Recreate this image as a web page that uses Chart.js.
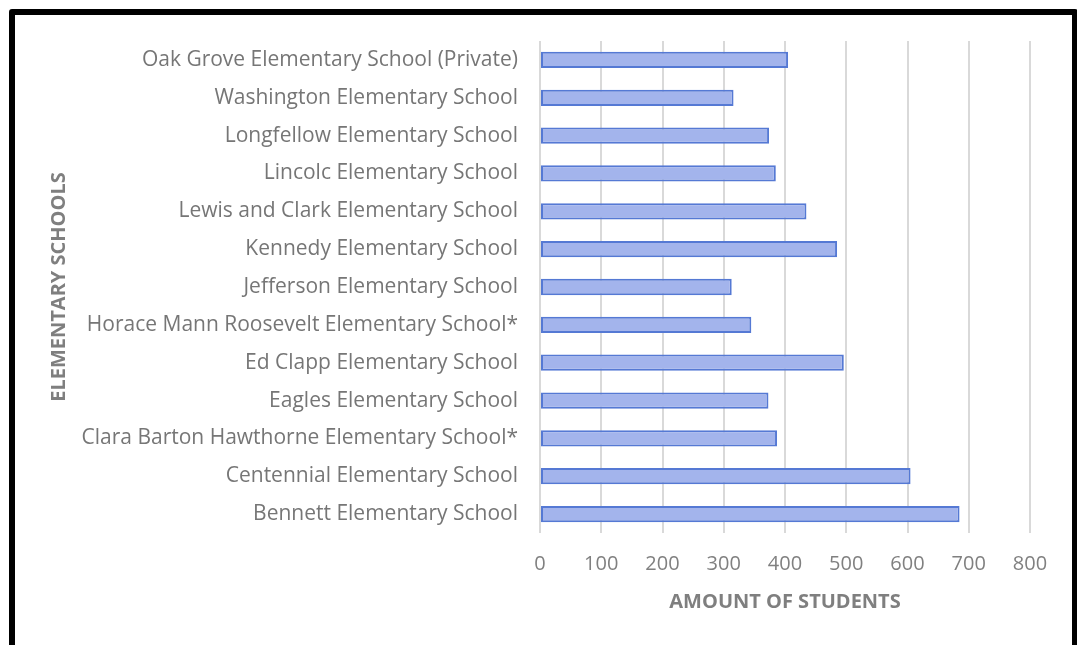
<!DOCTYPE html>
<html>
<head>
<meta charset="utf-8">
<script src="https://cdn.jsdelivr.net/npm/chart.js@4/dist/chart.umd.min.js"></script>
<style>
  html, body { margin: 0; padding: 0; background: #ffffff; overflow: hidden; }
  #wrap { position: relative; width: 1077px; height: 645px; }
  #frame { position: absolute; left: 9px; top: 9px; width: 1057px; height: 700px; border: 6px solid #000; border-radius: 3px; pointer-events: none; }
  canvas { position: absolute; left: 0; top: 0; }
</style>
</head>
<body>
<div id="wrap">
  <canvas id="c" width="1077" height="645"></canvas>
  <div id="frame"></div>
</div>
<script>
const schools = [
  "Oak Grove Elementary School (Private)",
  "Washington Elementary School",
  "Longfellow Elementary School",
  "Lincolc Elementary School",
  "Lewis and Clark Elementary School",
  "Kennedy Elementary School",
  "Jefferson Elementary School",
  "Horace Mann Roosevelt Elementary School*",
  "Ed Clapp Elementary School",
  "Eagles Elementary School",
  "Clara Barton Hawthorne Elementary School*",
  "Centennial Elementary School",
  "Bennett Elementary School"
];
const students = [405, 316, 374, 385, 435, 485, 313, 345, 496, 373, 387, 605, 685];
const xTicks = [0, 100, 200, 300, 400, 500, 600, 700, 800];
const xTitle = "AMOUNT OF STUDENTS";
const yTitle = "ELEMENTARY SCHOOLS";

const ctx = document.getElementById('c').getContext('2d');

function barFill(context) {
  const chart = context.chart;
  const el = context.element;
  if (!el || el.y === undefined || !chart.chartArea) return '#a3b4ec';
  const h = el.height || 16;
  const g = chart.ctx.createLinearGradient(0, el.y - h / 2, 0, el.y + h / 2);
  g.addColorStop(0, '#b3c1f1');
  g.addColorStop(1, '#8fa5e5');
  return g;
}

new Chart(ctx, {
  type: 'bar',
  data: {
    labels: schools,
    datasets: [{
      data: students,
      backgroundColor: barFill,
      borderColor: '#5579d4',
      borderWidth: 2,
      borderSkipped: false,
      categoryPercentage: 1.0,
      barPercentage: 0.43
    }]
  },
  options: {
    indexAxis: 'y',
    responsive: false,
    animation: false,
    devicePixelRatio: 1,
    layout: { padding: { left: 25, right: 47, top: 41, bottom: 20 } },
    plugins: { legend: { display: false }, tooltip: { enabled: false } },
    scales: {
      x: {
        min: 0,
        max: 800,
        afterBuildTicks: (s) => { s.ticks = xTicks.map(v => ({ value: v })); },
        afterFit: (s) => { s.height = 92; },
        grid: { color: '#d9d9d9', lineWidth: 2, drawTicks: false },
        border: { display: false },
        ticks: { color: '#808080', padding: 19, font: { family: 'Open Sans', size: 20 } },
        title: {
          display: true,
          text: xTitle,
          color: '#7f7f7f',
          font: { family: 'Open Sans', size: 20, weight: 'bold' },
          padding: { top: 0, bottom: 11 }
        }
      },
      y: {
        afterFit: (s) => { s.width = 515; },
        grid: { display: false, drawTicks: false },
        border: { display: false },
        ticks: { color: '#767676', padding: 22, font: { family: 'Open Sans', size: 21 }, autoSkip: false },
        title: {
          display: true,
          text: yTitle,
          color: '#7f7f7f',
          font: { family: 'Open Sans', size: 20, weight: 'bold' },
          padding: { top: 22, bottom: 0 }
        }
      }
    }
  }
});
</script>
</body>
</html>
